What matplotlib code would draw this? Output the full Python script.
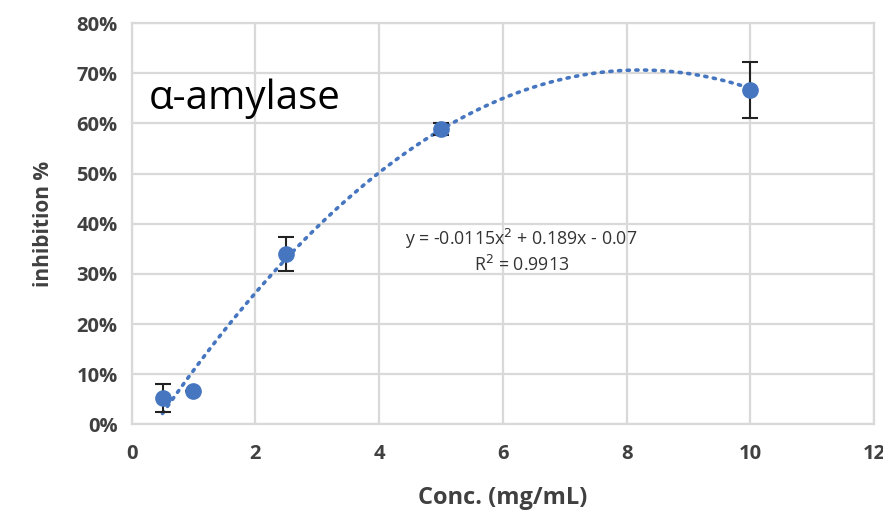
import numpy as np
import matplotlib.pyplot as plt
from matplotlib.ticker import PercentFormatter

# measured inhibition (fraction) with standard deviation
conc = [0.5, 1, 2.5, 5, 10]
inhibition = [0.052, 0.066, 0.339, 0.589, 0.667]
sd = [0.028, 0.0, 0.034, 0.012, 0.056]

# second-order polynomial trendline
coef = [-0.0115, 0.189, -0.07]
r2 = 0.9913

blue = '#4676c0'
grid = '#d9d9d9'
tick_col = '#404040'

plt.rcParams['font.family'] = ['Open Sans', 'DejaVu Sans']

fig = plt.figure(figsize=(8.83, 5.15), dpi=100)
ax = fig.add_axes([0.149, 0.176, 0.841, 0.779])

xs = np.linspace(conc[0], conc[-1], 300)
ax.plot(xs, np.polyval(coef, xs), color=blue, lw=2.6, ls=(0, (0.6, 1.8)),
        dash_capstyle='round', zorder=3)

ax.errorbar(conc, inhibition, yerr=sd, fmt='o', color=blue, ms=11,
            ecolor='#222222', elinewidth=1.5, capsize=6, capthick=1.5, zorder=4)

ax.set_xlim(0, 12)
ax.set_ylim(0, 0.8)
ax.set_xticks(range(0, 13, 2))
ax.set_yticks(np.arange(0, 0.81, 0.1))
ax.yaxis.set_major_formatter(PercentFormatter(1.0, decimals=0))
ax.grid(True, color=grid, lw=1.6)
ax.set_axisbelow(True)
for s in ax.spines.values():
    s.set_color(grid)
    s.set_linewidth(1.6)
ax.tick_params(length=0, labelsize=14.5, colors=tick_col)
ax.tick_params(axis='x', pad=14)
ax.tick_params(axis='y', pad=10)
for lab in ax.get_xticklabels() + ax.get_yticklabels():
    lab.set_fontweight('bold')

ax.set_xlabel('Conc. (mg/mL)', fontsize=17, fontweight='bold', color=tick_col, labelpad=16)
ax.set_ylabel('inhibition %', fontsize=15, fontweight='bold', color=tick_col, labelpad=16)

ax.text(0.28, 0.65, 'α-amylase', fontsize=29, color='black', va='center', ha='left')
ax.text(6.3, 0.37, 'y = -0.0115x$^2$ + 0.189x - 0.07', fontsize=12.8,
        color='#333333', ha='center', va='center')
ax.text(6.3, 0.318, 'R$^2$ = %.4f' % r2, fontsize=12.8, color='#333333',
        ha='center', va='center')

fig.savefig('out.png', dpi=100)
